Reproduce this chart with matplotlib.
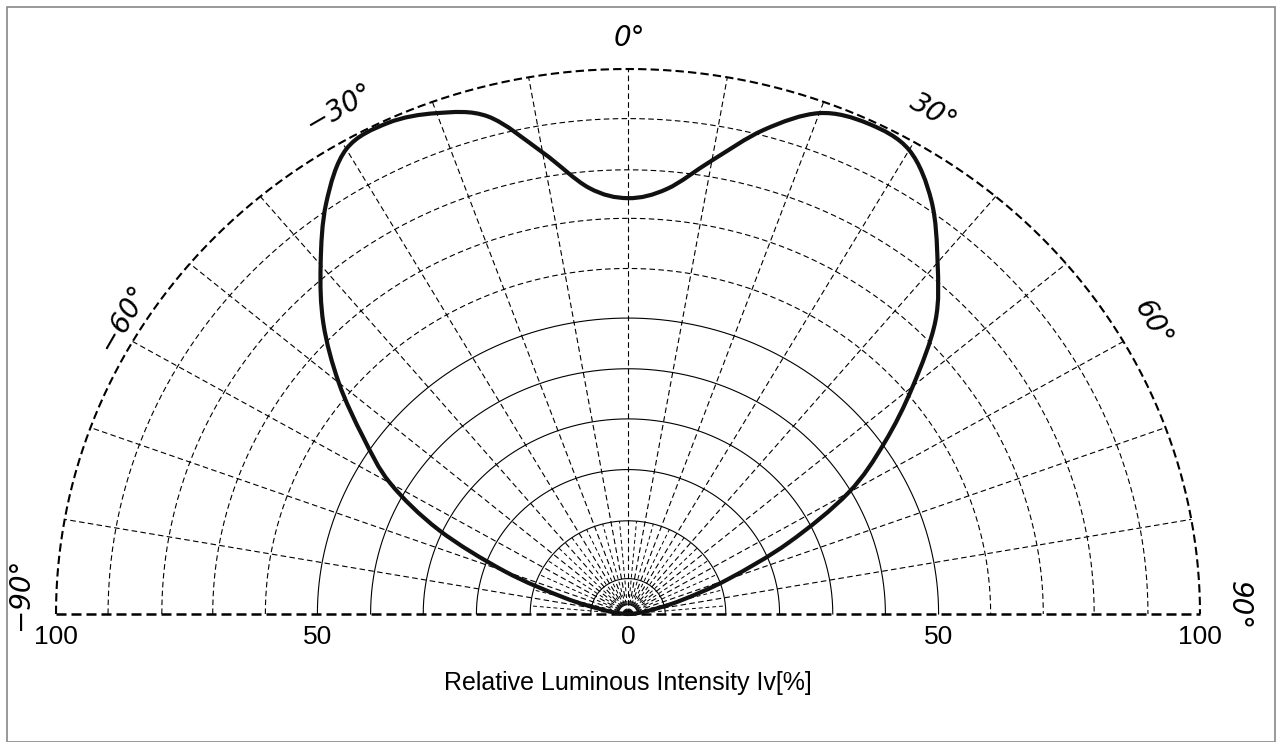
import numpy as np
import matplotlib
matplotlib.use("Agg")
import matplotlib.pyplot as plt
from matplotlib.patches import Rectangle, PathPatch
from matplotlib.path import Path

# ---------------- data ----------------
angles_deg = [-90, -85, -80, -75, -70, -65, -60, -55, -50, -45, -40, -35, -30,
              -25, -20, -15, -10, -5, 0, 5, 10, 15, 20, 25, 30, 35, 40, 45,
              50, 55, 60, 65, 70, 75, 80, 85, 90]
intensity = [0.0, 1.5, 4.5, 11.5, 23.0, 36.5, 48.0, 56.5, 66.0, 75.3, 83.6, 92.0, 98.5,
             99.4, 97.8, 94.5, 86.0, 78.5, 76.3, 78.3, 84.5, 92.0, 97.8, 99.3, 98.3,
             92.5, 84.2, 76.0, 65.0, 54.7, 44.5, 31.0, 18.5, 9.5, 4.0, 1.5, 0.0]

solid_rings = [1.7, 6.5, 17.1, 26.5, 35.8, 45.0, 54.3]
dashed_rings = [63.4, 72.6, 81.5, 90.9]
outer_ring = 100.0
spoke_angles = list(range(-80, 81, 10))
fine_spokes = list(range(-85, 86, 10))

tick_pos = [-100, -54.3, 0, 54.3, 100]
tick_labels = ["100", "50", "0", "50", "100"]
angle_label_text = ["0°", "30°", "−30°", "60°", "−60°", "90°", "−90°"]
xlabel_text = "Relative Luminous Intensity Iv[%]"

# ---------------- figure ----------------
W, H = 1276, 742
fig = plt.figure(figsize=(W / 100, H / 100), dpi=100)
ax = fig.add_axes([0, 0, 1, 1])
cx, cy = 628.0, 614.0   # pixel centre
sx, sy = 5.72, 5.45     # pixels per unit
ax.set_xlim((0 - cx) / sx, (W - cx) / sx)
ax.set_ylim((cy - H) / sy, cy / sy)
ax.axis("off")

th_full = np.radians(np.linspace(-90, 90, 721))

def ring(r, **kw):
    ax.plot(r * np.sin(th_full), r * np.cos(th_full), **kw)

for i, r in enumerate(solid_rings):
    ring(r, color="black", lw=0.5 if i == 0 else 0.8)
for r in dashed_rings:
    ring(r, color="black", lw=0.8, dashes=(5, 3))
ring(outer_ring, color="black", lw=1.5, dashes=(4, 2))

for a in spoke_angles:
    t = np.radians(a)
    ax.plot([0, outer_ring * np.sin(t)], [0, outer_ring * np.cos(t)],
            color="black", lw=0.8, dashes=(5, 3))
for a in fine_spokes:
    t = np.radians(a)
    ax.plot([solid_rings[0] * np.sin(t), solid_rings[2] * np.sin(t)],
            [solid_rings[0] * np.cos(t), solid_rings[2] * np.cos(t)],
            color="black", lw=0.7, dashes=(4, 3))

# baseline
ax.plot([-outer_ring, outer_ring], [0, 0], color="black", lw=1.8, dashes=(4, 2))

# curve: smooth Catmull-Rom Bezier through the read points
th = np.radians(angles_deg)
rr = np.array(intensity)
pts = np.column_stack([rr * np.sin(th), rr * np.cos(th)])
verts = [tuple(pts[0])]
codes = [Path.MOVETO]
n = len(pts)
for i in range(n - 1):
    p0 = pts[max(i - 1, 0)]
    p1 = pts[i]
    p2 = pts[i + 1]
    p3 = pts[min(i + 2, n - 1)]
    c1 = p1 + (p2 - p0) / 6.0
    c2 = p2 - (p3 - p1) / 6.0
    verts += [tuple(c1), tuple(c2), tuple(p2)]
    codes += [Path.CURVE4] * 3
ax.add_patch(PathPatch(Path(verts, codes), facecolor="none", edgecolor="#111111",
                       lw=3.0, joinstyle="round", capstyle="round", zorder=5))

# tick labels
for p, lab in zip(tick_pos, tick_labels):
    ax.text(p, -4.3, lab, ha="center", va="center", fontsize=19,
            family="Liberation Sans", color="black")

# angle labels (pixel positions converted)
label_px = [(629, 38, 0), (933, 112, -30), (339, 108, 30), (1152, 323, -60),
            (123, 318, 60), (1239, 606, -90), (20, 594, 90)]
for txt, (px, py, rot) in zip(angle_label_text, label_px):
    ax.text((px - cx) / sx, (cy - py) / sy, txt, ha="center", va="center",
            rotation=rot, rotation_mode="anchor", fontsize=20,
            family="DejaVu Sans", fontweight="ultralight", fontstyle="oblique",
            color="black")

ax.text(0, (cy - 683) / sy, xlabel_text, ha="center", va="center",
        fontsize=18, family="Liberation Sans", color="black")

# figure border
fig.patches.append(Rectangle((7 / W, 0.5 / H), (W - 8.5) / W, (H - 6.5 - 0.5) / H,
                             transform=fig.transFigure, fill=False,
                             edgecolor="#888888", lw=1.2))

fig.savefig("out.png", dpi=100, facecolor="white")
